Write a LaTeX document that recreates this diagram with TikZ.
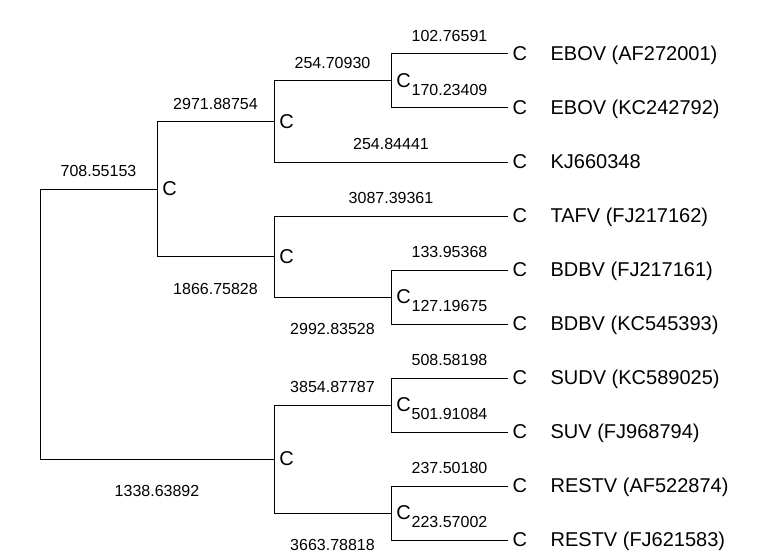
\documentclass[tikz,border=0pt]{standalone}
\usepackage{fontspec}
\setmainfont{Liberation Sans}
\usetikzlibrary{positioning}
\begin{document}
\begin{tikzpicture}[x=0.75pt,y=-0.75pt,line width=0.75pt,
  blen/.style={font=\fontsize{12}{14}\selectfont,inner sep=0pt,pos=0.75},
  lenup/.style={blen,yshift=13.5pt},
  lendown/.style={blen,yshift=-24pt},
  cnode/.style={font=\fontsize{15}{18}\selectfont,inner sep=0pt,anchor=west,xshift=3.6pt},
  tipc/.style={font=\fontsize{15}{18}\selectfont,inner sep=3pt,anchor=west},
  tipname/.style={font=\fontsize{15}{18}\selectfont,inner sep=0pt}]
  \useasboundingbox (0,0) rectangle (784,556);
  % inner points of the tree
  \coordinate (R) at (40,324);
  \coordinate (A) at (157,189);
  \coordinate (B) at (274,121.5);
  \coordinate (E) at (391,81);
  \coordinate (D) at (274,256.5);
  \coordinate (F) at (391,297);
  \coordinate (G) at (274,459);
  \coordinate (H) at (391,405);
  \coordinate (K) at (391,513);
  % tips
  \node[tipc] (T1) at (508,54) {C};
  \node[tipc] (T2) at (508,108) {C};
  \node[tipc] (T3) at (508,162) {C};
  \node[tipc] (T4) at (508,216) {C};
  \node[tipc] (T5) at (508,270) {C};
  \node[tipc] (T6) at (508,324) {C};
  \node[tipc] (T7) at (508,378) {C};
  \node[tipc] (T8) at (508,432) {C};
  \node[tipc] (T9) at (508,486) {C};
  \node[tipc] (T10) at (508,540) {C};
  \node[tipname,base right=14pt of T1] (N1) {EBOV (AF272001)};
  \node[tipname,base right=14pt of T2] (N2) {EBOV (KC242792)};
  \node[tipname,base right=14pt of T3] (N3) {KJ660348};
  \node[tipname,base right=14pt of T4] (N4) {TAFV (FJ217162)};
  \node[tipname,base right=14pt of T5] (N5) {BDBV (FJ217161)};
  \node[tipname,base right=14pt of T6] (N6) {BDBV (KC545393)};
  \node[tipname,base right=14pt of T7] (N7) {SUDV (KC589025)};
  \node[tipname,base right=14pt of T8] (N8) {SUV (FJ968794)};
  \node[tipname,base right=14pt of T9] (N9) {RESTV (AF522874)};
  \node[tipname,base right=14pt of T10] (N10) {RESTV (FJ621583)};
  % branches with their lengths
  \draw (R) |- (A) node[lenup] (L1) {708.55153};
  \draw (R) |- (G) node[lendown] (L2) {1338.63892};
  \draw (A) |- (B) node[lenup] (L3) {2971.88754};
  \draw (A) |- (D) node[lendown] (L4) {1866.75828};
  \draw (B) |- (E) node[lenup] (L5) {254.70930};
  \draw (B) |- (T3.west) node[lenup] (L6) {254.84441};
  \draw (E) |- (T1.west) node[lenup] (L7) {102.76591};
  \draw (E) |- (T2.west) node[lenup] (L8) {170.23409};
  \draw (D) |- (T4.west) node[lenup] (L9) {3087.39361};
  \draw (D) |- (F) node[lendown] (L10) {2992.83528};
  \draw (F) |- (T5.west) node[lenup] (L11) {133.95368};
  \draw (F) |- (T6.west) node[lenup] (L12) {127.19675};
  \draw (G) |- (H) node[lenup] (L13) {3854.87787};
  \draw (G) |- (K) node[lendown] (L14) {3663.78818};
  \draw (H) |- (T7.west) node[lenup] (L15) {508.58198};
  \draw (H) |- (T8.west) node[lenup] (L16) {501.91084};
  \draw (K) |- (T9.west) node[lenup] (L17) {237.50180};
  \draw (K) |- (T10.west) node[lenup] (L18) {223.57002};
  % labels of the inner points
  \node[cnode] (cA) at (A) {C};
  \node[cnode] (cB) at (B) {C};
  \node[cnode] (cE) at (E) {C};
  \node[cnode] (cD) at (D) {C};
  \node[cnode] (cF) at (F) {C};
  \node[cnode] (cG) at (G) {C};
  \node[cnode] (cH) at (H) {C};
  \node[cnode] (cK) at (K) {C};
\end{tikzpicture}
\end{document}
